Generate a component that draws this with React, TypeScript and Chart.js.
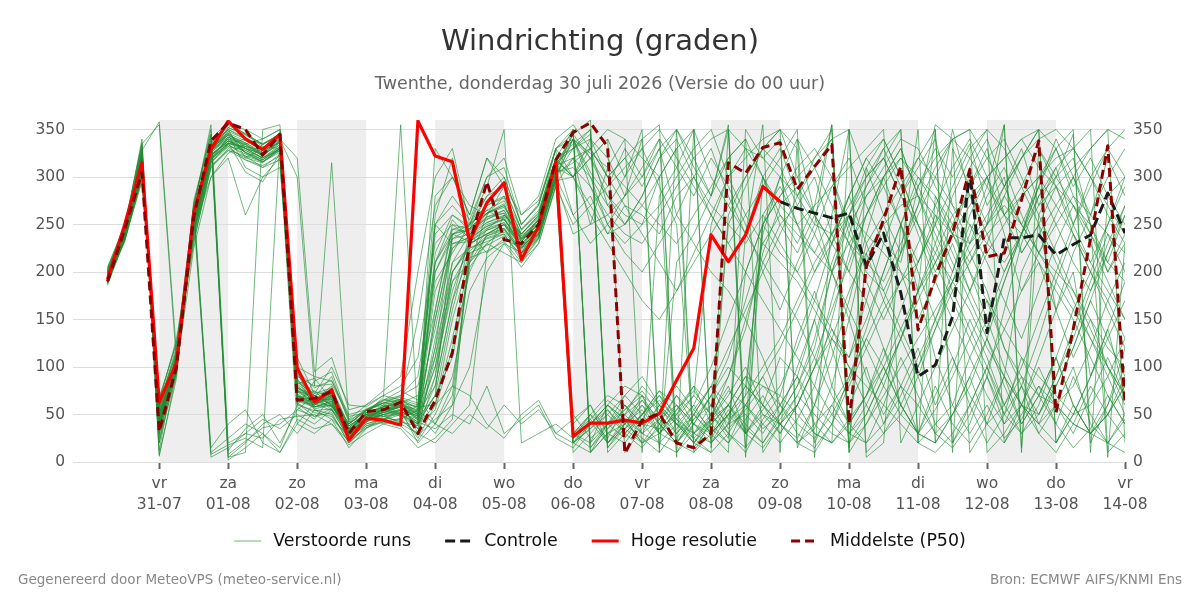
import { useEffect, useRef } from "react";
import { Chart, registerables } from "chart.js";

Chart.register(...registerables);

const FONT = "'DejaVu Sans', sans-serif";

// Time axis: hours relative to vr 31-07 00:00
const axisStartHour = -30;
const axisEndHour = 336;
const stepHours = 6;
const runStartHour = -18;
const controlStartHour = 216;

const tickHours = [0, 24, 48, 72, 96, 120, 144, 168, 192, 216, 240, 264, 288, 312, 336];
const dayNames = ["vr", "za", "zo", "ma", "di", "wo", "do", "vr", "za", "zo", "ma", "di", "wo", "do", "vr"];
const dayDates = ["31-07", "01-08", "02-08", "03-08", "04-08", "05-08", "06-08", "07-08", "08-08", "09-08", "10-08", "11-08", "12-08", "13-08", "14-08"];

// Shaded alternate days [from, to] in hours
const shadedDays = [[0, 24], [48, 72], [96, 120], [144, 168], [192, 216], [240, 264], [288, 312]];

const yTicks = [0, 50, 100, 150, 200, 250, 300, 350];

// High resolution run, every 6 h from 30-07 06:00 until 09-08 00:00
const hres = [
  192, 250, 315, 63, 104, 262, 329, 359, 340, 329,
  345, 99, 63, 76, 23, 46, 44, 39, 359, 322,
  316, 232, 273, 294, 213, 248, 316, 27, 41, 41,
  44, 41, 51, 86, 120, 239, 211, 239, 290, 274,
];

// Control run, every 6 h from 09-08 00:00 until 14-08 00:00
const control = [274, 267, 262, 257, 262, 206, 241, 178, 90, 102, 153, 306, 136, 236, 236, 239, 218, 229, 239, 283, 241];

// Ensemble median (P50), every 6 h from 30-07 06:00
const median = [
  190, 245, 305, 32, 100, 258, 338, 357, 350, 323,
  345, 65, 67, 74, 30, 53, 55, 63, 30, 65,
  115, 230, 295, 234, 230, 250, 318, 347, 357, 332,
  9, 44, 51, 20, 15, 30, 315, 304, 331, 336,
  287, 311, 334, 41, 206, 255, 311, 139, 195, 241,
  308, 216, 220, 276, 338, 52, 140, 235, 333, 62,
];

// Perturbed ensemble members, every 6 h from 30-07 06:00
const member01 = [193, 240, 318, 42, 102, 258, 328, 342, 335, 322, 338, 72, 60, 68, 28, 48, 52, 58, 45, 180, 225, 238, 262, 270, 232, 255, 312, 30, 45, 25, 60, 40, 35, 50, 70, 250, 300, 330, 320, 340, 20, 35, 80, 150, 230, 260, 290, 320, 300, 270, 250, 230, 210, 240, 300, 330, 350, 20, 60, 120];
const member02 = [198, 236, 305, 55, 110, 248, 330, 348, 340, 330, 345, 85, 70, 60, 35, 42, 60, 65, 30, 90, 200, 230, 240, 250, 225, 245, 300, 340, 320, 280, 260, 250, 300, 330, 10, 30, 50, 70, 250, 280, 310, 330, 300, 250, 200, 180, 220, 260, 300, 340, 10, 40, 90, 200, 240, 270, 300, 330, 350, 340];
const member03 = [188, 242, 325, 30, 95, 262, 335, 355, 350, 340, 350, 95, 55, 50, 20, 38, 45, 52, 25, 60, 150, 215, 245, 260, 240, 260, 320, 350, 10, 30, 40, 55, 30, 20, 45, 60, 90, 140, 220, 270, 290, 260, 230, 200, 170, 120, 80, 60, 30, 15, 40, 90, 160, 230, 280, 300, 320, 250, 200, 230];
const member04 = [201, 245, 332, 20, 120, 270, 10, 25, 40, 30, 15, 60, 85, 95, 45, 60, 70, 80, 110, 230, 250, 245, 280, 300, 250, 270, 330, 300, 270, 240, 250, 280, 320, 350, 15, 40, 60, 35, 20, 50, 80, 120, 200, 250, 280, 310, 340, 330, 290, 260, 220, 180, 120, 90, 70, 60, 40, 30, 60, 100];
const member05 = [195, 238, 312, 48, 100, 250, 322, 338, 328, 318, 332, 68, 62, 72, 32, 52, 55, 48, 60, 200, 235, 240, 258, 265, 228, 248, 305, 310, 290, 260, 240, 230, 260, 290, 320, 340, 350, 30, 50, 40, 60, 100, 130, 180, 220, 250, 270, 280, 260, 240, 230, 250, 355, 10, 330, 300, 270, 250, 5, 230];
const member06 = [205, 250, 335, 355, 105, 255, 330, 350, 320, 330, 340, 300, 80, 315, 40, 55, 62, 60, 50, 120, 240, 250, 290, 350, 20, 30, 40, 25, 40, 60, 45, 30, 20, 40, 60, 100, 150, 200, 250, 280, 300, 320, 340, 10, 40, 70, 100, 130, 160, 190, 220, 250, 270, 250, 220, 200, 180, 150, 120, 100];
const member07 = [190, 232, 298, 62, 130, 240, 318, 335, 332, 326, 342, 78, 65, 80, 30, 45, 50, 55, 40, 70, 110, 205, 230, 220, 210, 235, 290, 20, 35, 50, 30, 15, 40, 70, 50, 30, 10, 350, 320, 300, 280, 250, 240, 260, 290, 320, 350, 20, 40, 60, 110, 150, 200, 240, 270, 290, 310, 330, 350, 20];
const member08 = [196, 240, 320, 38, 108, 265, 5, 15, 30, 45, 35, 50, 40, 55, 25, 40, 45, 55, 20, 40, 80, 210, 260, 290, 260, 280, 340, 355, 330, 300, 270, 240, 210, 180, 220, 260, 300, 320, 340, 350, 330, 5, 260, 230, 210, 190, 230, 270, 355, 340, 350, 10, 30, 60, 110, 160, 220, 260, 300, 330];
const member09 = [192, 244, 310, 52, 98, 255, 325, 345, 310, 300, 320, 40, 30, 45, 15, 35, 48, 42, 38, 130, 210, 225, 235, 240, 215, 240, 295, 240, 250, 260, 280, 300, 330, 260, 230, 200, 180, 150, 110, 60, 30, 15, 40, 80, 120, 160, 190, 210, 250, 290, 330, 350, 20, 50, 80, 60, 40, 30, 20, 10];
const member10 = [199, 247, 328, 358, 115, 245, 300, 320, 260, 300, 310, 100, 90, 85, 50, 55, 65, 75, 65, 250, 280, 255, 300, 320, 260, 275, 330, 345, 360, 15, 35, 60, 40, 20, 40, 70, 110, 170, 230, 260, 240, 220, 200, 230, 260, 290, 320, 300, 280, 250, 200, 150, 100, 60, 40, 60, 80, 120, 170, 210];
const member11 = [194, 239, 316, 45, 104, 260, 340, 358, 345, 335, 345, 88, 58, 62, 22, 42, 58, 62, 50, 30, 60, 100, 200, 230, 220, 250, 315, 50, 25, 40, 55, 70, 40, 20, 10, 45, 60, 90, 80, 70, 50, 30, 20, 40, 70, 100, 140, 180, 220, 260, 280, 300, 320, 340, 310, 290, 270, 240, 210, 190];
const member12 = [186, 234, 302, 68, 125, 235, 310, 330, 320, 315, 330, 110, 72, 100, 60, 58, 70, 65, 150, 270, 300, 260, 320, 290, 245, 265, 320, 330, 340, 300, 320, 340, 355, 10, 30, 20, 40, 70, 100, 130, 170, 210, 240, 270, 300, 330, 350, 20, 280, 240, 200, 170, 140, 110, 90, 70, 50, 60, 90, 130];
const member13 = [202, 241, 322, 25, 92, 268, 15, 40, 55, 20, 10, 45, 35, 40, 18, 30, 40, 35, 15, 25, 45, 230, 240, 250, 230, 245, 300, 320, 330, 350, 340, 320, 300, 330, 350, 20, 40, 50, 30, 60, 90, 150, 210, 260, 300, 320, 280, 250, 220, 190, 160, 120, 90, 60, 50, 80, 120, 170, 220, 270];
const member14 = [197, 243, 314, 40, 112, 252, 332, 346, 338, 328, 336, 65, 75, 58, 38, 50, 40, 45, 55, 260, 320, 240, 220, 235, 225, 240, 310, 20, 40, 60, 80, 70, 55, 40, 25, 10, 350, 330, 300, 270, 250, 270, 290, 310, 330, 350, 20, 60, 100, 140, 180, 220, 250, 280, 300, 320, 330, 300, 260, 230];
const member15 = [189, 237, 308, 56, 101, 246, 320, 336, 305, 295, 325, 58, 45, 70, 30, 55, 62, 70, 90, 210, 255, 235, 248, 255, 235, 255, 320, 30, 15, 35, 50, 80, 60, 40, 30, 45, 90, 150, 210, 250, 270, 240, 200, 160, 120, 80, 50, 30, 20, 50, 80, 130, 190, 240, 280, 310, 330, 350, 10, 30];
const member16 = [200, 246, 340, 8, 88, 275, 345, 5, 20, 40, 50, 30, 55, 45, 28, 45, 50, 40, 30, 20, 40, 60, 220, 260, 240, 260, 330, 340, 300, 250, 230, 250, 270, 300, 330, 350, 300, 260, 230, 210, 190, 160, 130, 100, 80, 60, 40, 20, 10, 30, 60, 100, 140, 180, 220, 250, 280, 260, 240, 220];
const member17 = [193, 235, 295, 70, 98, 225, 300, 325, 335, 340, 350, 78, 68, 90, 42, 48, 56, 50, 35, 110, 190, 210, 230, 245, 220, 238, 298, 28, 42, 20, 35, 50, 75, 60, 40, 30, 50, 80, 60, 40, 20, 10, 40, 90, 140, 200, 250, 290, 320, 340, 320, 290, 260, 240, 210, 180, 150, 110, 70, 40];
const member18 = [195, 241, 330, 35, 107, 258, 8, 18, 25, 15, 340, 320, 95, 110, 55, 60, 75, 90, 200, 300, 330, 250, 300, 310, 250, 270, 330, 10, 30, 50, 70, 90, 60, 30, 50, 80, 120, 160, 200, 240, 280, 310, 340, 350, 10, 30, 60, 100, 140, 180, 210, 240, 260, 280, 300, 270, 240, 210, 180, 150];
const member19 = [191, 233, 300, 60, 118, 230, 315, 332, 328, 320, 328, 62, 52, 48, 25, 38, 42, 38, 22, 50, 90, 180, 215, 230, 205, 230, 290, 250, 270, 290, 310, 330, 350, 320, 290, 260, 230, 200, 170, 140, 110, 80, 50, 30, 20, 40, 70, 110, 150, 190, 230, 260, 290, 320, 340, 350, 330, 300, 270, 240];
const member20 = [203, 249, 326, 50, 103, 262, 326, 352, 345, 332, 330, 82, 88, 66, 33, 52, 65, 70, 80, 160, 245, 250, 270, 280, 240, 258, 315, 330, 350, 10, 30, 50, 70, 40, 20, 10, 30, 60, 90, 120, 160, 200, 230, 260, 240, 220, 200, 180, 210, 240, 270, 300, 320, 340, 350, 20, 50, 90, 140, 190];
const member21 = [196, 239, 319, 44, 96, 250, 335, 5, 10, 350, 355, 70, 60, 75, 35, 46, 54, 62, 70, 40, 70, 220, 228, 238, 218, 235, 300, 340, 325, 310, 290, 270, 250, 230, 260, 290, 320, 340, 10, 40, 70, 50, 30, 20, 50, 90, 130, 170, 210, 250, 290, 320, 340, 300, 260, 220, 180, 140, 100, 70];
const member22 = [187, 236, 304, 58, 122, 238, 312, 328, 322, 310, 318, 90, 80, 82, 48, 52, 68, 355, 40, 330, 300, 270, 260, 280, 245, 262, 318, 30, 50, 70, 60, 40, 20, 10, 40, 70, 100, 80, 60, 40, 20, 40, 60, 90, 130, 170, 220, 270, 310, 340, 350, 320, 290, 250, 220, 190, 160, 130, 100, 70];
const member23 = [199, 244, 323, 28, 115, 270, 350, 12, 35, 50, 20, 55, 70, 55, 40, 55, 60, 50, 40, 80, 170, 240, 255, 265, 235, 250, 310, 300, 260, 230, 200, 170, 150, 180, 210, 240, 270, 300, 330, 350, 15, 60, 130, 110, 170, 230, 210, 290, 330, 300, 335, 270, 300, 220, 250, 160, 200, 90, 140, 70];
const member24 = [194, 240, 311, 46, 100, 252, 328, 340, 330, 324, 334, 70, 58, 64, 26, 44, 50, 56, 48, 150, 230, 236, 252, 258, 226, 244, 302, 330, 345, 20, 45, 20, 35, 60, 30, 50, 250, 290, 330, 310, 270, 300, 240, 200, 260, 300, 330, 280, 240, 200, 260, 300, 240, 180, 210, 160, 110, 150, 100, 60];
const member25 = [192, 238, 306, 50, 106, 248, 322, 338, 330, 320, 330, 65, 60, 70, 30, 48, 58, 60, 55, 240, 260, 245, 265, 275, 238, 252, 312, 320, 300, 270, 300, 330, 290, 250, 20, 50, 80, 30, 60, 110, 90, 40, 20, 350, 300, 320, 280, 320, 350, 20, 60, 20, 50, 110, 70, 40, 90, 50, 20, 45];
const member26 = [197, 242, 318, 40, 108, 256, 330, 344, 336, 326, 340, 80, 66, 58, 36, 50, 48, 52, 45, 100, 180, 232, 246, 252, 230, 248, 308, 345, 20, 40, 25, 50, 65, 45, 30, 60, 40, 200, 250, 300, 340, 260, 300, 240, 210, 250, 200, 150, 190, 230, 180, 230, 280, 250, 290, 340, 300, 260, 320, 280];
const member27 = [190, 236, 320, 36, 100, 262, 320, 335, 340, 335, 344, 75, 63, 72, 28, 42, 53, 60, 35, 55, 120, 200, 240, 250, 228, 240, 305, 40, 60, 20, 40, 70, 30, 50, 80, 60, 30, 10, 45, 70, 130, 180, 120, 60, 100, 40, 80, 30, 70, 110, 60, 100, 50, 80, 30, 60, 100, 40, 20, 50];
const member28 = [200, 246, 322, 54, 104, 258, 327, 348, 325, 316, 326, 92, 70, 60, 42, 56, 62, 66, 52, 190, 220, 250, 265, 255, 232, 256, 318, 300, 340, 320, 280, 340, 10, 350, 320, 280, 355, 15, 260, 230, 200, 240, 290, 320, 270, 230, 280, 310, 340, 270, 230, 280, 310, 260, 220, 260, 300, 250, 210, 260];
const member29 = [193, 237, 309, 42, 97, 244, 318, 342, 332, 328, 336, 60, 54, 56, 24, 40, 46, 44, 30, 120, 200, 225, 232, 240, 212, 236, 296, 20, 10, 40, 60, 30, 45, 70, 40, 20, 50, 30, 300, 250, 220, 260, 200, 150, 90, 50, 80, 120, 60, 100, 150, 110, 60, 90, 40, 80, 120, 170, 130, 90];
const member30 = [198, 243, 328, 12, 112, 268, 355, 20, 30, 25, 45, 48, 50, 40, 22, 36, 44, 50, 40, 210, 245, 242, 258, 262, 234, 250, 312, 345, 320, 290, 330, 300, 340, 310, 280, 320, 290, 250, 200, 160, 210, 250, 355, 15, 220, 170, 130, 180, 350, 10, 310, 340, 290, 330, 270, 310, 250, 290, 330, 350];
const member31 = [195, 240, 315, 48, 103, 254, 326, 340, 334, 322, 338, 68, 66, 66, 30, 46, 52, 54, 42, 35, 50, 40, 80, 30, 45, 60, 25, 15, 40, 55, 35, 20, 45, 60, 40, 25, 55, 30, 15, 40, 60, 30, 20, 45, 70, 120, 60, 30, 80, 40, 20, 50, 90, 40, 70, 110, 60, 30, 50, 80];
const member32 = [191, 239, 313, 58, 99, 246, 324, 336, 330, 320, 332, 76, 62, 54, 34, 50, 58, 64, 58, 250, 230, 232, 244, 250, 220, 242, 300, 260, 280, 240, 270, 260, 240, 280, 300, 270, 250, 230, 260, 290, 250, 220, 260, 350, 5, 20, 250, 210, 250, 350, 280, 240, 200, 240, 290, 250, 210, 180, 220, 260];
const member33 = [196, 241, 317, 40, 109, 260, 332, 350, 342, 330, 343, 84, 72, 78, 38, 50, 60, 58, 46, 70, 160, 230, 240, 246, 224, 240, 306, 25, 50, 35, 55, 75, 50, 30, 55, 80, 45, 60, 40, 20, 45, 80, 150, 220, 280, 300, 250, 180, 110, 60, 30, 60, 25, 45, 80, 40, 15, 35, 70, 40];
const member34 = [189, 235, 303, 64, 114, 242, 316, 334, 322, 316, 328, 62, 48, 52, 20, 36, 42, 46, 28, 45, 60, 215, 222, 232, 210, 230, 292, 320, 250, 310, 340, 10, 280, 310, 350, 15, 260, 300, 330, 350, 300, 260, 230, 280, 320, 340, 300, 250, 200, 240, 290, 330, 260, 220, 250, 290, 240, 200, 250, 300];
const member35 = [202, 247, 334, 20, 96, 272, 345, 2, 15, 30, 10, 40, 62, 70, 36, 52, 58, 66, 60, 280, 300, 260, 320, 300, 250, 272, 330, 350, 15, 40, 70, 50, 30, 55, 80, 40, 20, 60, 90, 50, 100, 150, 80, 40, 20, 60, 110, 70, 30, 50, 90, 130, 80, 40, 70, 110, 60, 30, 50, 90];
const member36 = [194, 239, 310, 52, 101, 250, 320, 332, 318, 312, 322, 70, 56, 60, 32, 44, 48, 50, 38, 160, 250, 236, 248, 256, 228, 246, 304, 30, 20, 60, 40, 25, 10, 35, 60, 30, 50, 80, 240, 300, 250, 200, 240, 280, 230, 180, 140, 100, 150, 200, 250, 210, 170, 130, 180, 230, 270, 230, 190, 150];
const member37 = [197, 243, 321, 38, 104, 256, 329, 345, 330, 325, 338, 74, 70, 64, 26, 46, 56, 60, 52, 200, 240, 246, 262, 268, 238, 254, 318, 300, 330, 270, 250, 280, 320, 340, 300, 260, 230, 260, 290, 320, 350, 20, 60, 30, 50, 90, 130, 90, 40, 20, 50, 90, 40, 60, 100, 60, 30, 70, 110, 70];
const member38 = [192, 237, 314, 46, 102, 249, 322, 340, 326, 318, 330, 66, 60, 70, 34, 50, 52, 58, 44, 90, 190, 222, 238, 244, 222, 240, 300, 350, 10, 30, 20, 45, 70, 50, 25, 45, 70, 100, 60, 30, 60, 100, 170, 240, 290, 330, 290, 240, 190, 150, 110, 70, 40, 80, 130, 190, 240, 200, 160, 120];
const member39 = [199, 245, 326, 32, 96, 264, 338, 352, 344, 334, 344, 80, 64, 58, 40, 54, 64, 68, 62, 140, 225, 244, 256, 262, 236, 250, 310, 340, 290, 250, 220, 200, 230, 260, 300, 330, 280, 240, 210, 180, 150, 110, 70, 40, 70, 110, 160, 210, 260, 220, 180, 140, 190, 240, 290, 330, 280, 240, 200, 240];
const member40 = [190, 234, 300, 66, 126, 232, 310, 328, 318, 310, 324, 96, 78, 86, 44, 54, 66, 62, 58, 60, 80, 70, 40, 25, 50, 65, 30, 45, 60, 30, 50, 65, 40, 20, 45, 70, 35, 55, 80, 60, 40, 25, 50, 85, 130, 100, 60, 30, 55, 90, 130, 170, 120, 80, 50, 90, 130, 180, 230, 270];
const member41 = [196, 241, 316, 44, 106, 254, 330, 344, 336, 324, 340, 74, 62, 66, 30, 48, 54, 58, 48, 210, 240, 244, 262, 272, 234, 252, 314, 335, 350, 15, 40, 60, 30, 45, 70, 50, 25, 240, 300, 330, 280, 320, 350, 30, 60, 100, 60, 30, 20, 50, 90, 40, 20, 60, 30, 10, 40, 80, 50, 25];
const member42 = [193, 238, 312, 50, 104, 250, 324, 338, 330, 320, 334, 70, 64, 70, 30, 46, 56, 58, 50, 100, 200, 228, 244, 252, 226, 244, 304, 315, 330, 300, 320, 290, 330, 350, 310, 280, 320, 340, 300, 260, 230, 270, 355, 10, 310, 260, 220, 350, 20, 330, 290, 250, 280, 320, 350, 330, 290, 320, 280, 250];
const member43 = [200, 244, 326, 36, 98, 262, 334, 350, 340, 330, 342, 82, 68, 62, 34, 52, 58, 62, 54, 40, 30, 50, 35, 60, 40, 55, 30, 20, 45, 65, 50, 30, 60, 80, 55, 35, 20, 45, 70, 40, 25, 60, 110, 170, 240, 300, 330, 280, 230, 180, 140, 100, 60, 30, 50, 90, 140, 190, 240, 200];
const member44 = [191, 236, 304, 58, 116, 240, 316, 334, 324, 316, 330, 64, 58, 60, 28, 44, 50, 52, 40, 60, 130, 210, 238, 246, 220, 238, 296, 300, 320, 340, 10, 35, 60, 40, 20, 45, 75, 60, 35, 50, 80, 130, 200, 260, 310, 340, 300, 250, 210, 170, 130, 90, 50, 30, 60, 110, 160, 200, 170, 130];
const member45 = [197, 242, 320, 46, 100, 258, 330, 346, 332, 322, 336, 76, 66, 72, 32, 50, 54, 60, 50, 220, 260, 248, 270, 278, 240, 258, 320, 260, 230, 250, 280, 310, 340, 20, 50, 30, 60, 90, 50, 30, 60, 100, 140, 100, 60, 30, 50, 90, 140, 190, 240, 290, 355, 15, 260, 300, 345, 10, 280, 300];
const member46 = [189, 235, 306, 62, 110, 244, 318, 336, 326, 318, 330, 78, 70, 76, 38, 50, 58, 62, 52, 80, 170, 218, 236, 242, 220, 236, 298, 25, 40, 60, 45, 20, 30, 55, 75, 50, 30, 15, 40, 60, 90, 60, 40, 20, 40, 80, 130, 180, 230, 280, 320, 350, 330, 290, 250, 210, 170, 130, 90, 50];
const member47 = [204, 248, 336, 6, 94, 270, 342, 8, 22, 36, 40, 55, 48, 56, 30, 44, 52, 58, 48, 150, 235, 246, 262, 270, 236, 256, 316, 340, 305, 280, 250, 270, 300, 5, 350, 300, 270, 240, 355, 10, 340, 310, 270, 230, 190, 150, 190, 230, 270, 310, 340, 300, 260, 290, 330, 290, 250, 210, 250, 290];
const member48 = [192, 237, 308, 52, 104, 248, 322, 338, 326, 316, 328, 66, 58, 64, 26, 42, 50, 54, 42, 70, 240, 232, 250, 256, 226, 244, 302, 30, 50, 20, 40, 65, 45, 25, 50, 80, 60, 40, 20, 45, 70, 110, 160, 210, 260, 300, 320, 290, 250, 210, 170, 130, 90, 60, 40, 20, 50, 90, 130, 170];
const member49 = [195, 240, 314, 44, 102, 254, 328, 342, 334, 324, 338, 70, 62, 68, 30, 48, 54, 58, 46, 250, 270, 250, 280, 290, 244, 262, 320, 300, 320, 340, 300, 350, 15, 210, 240, 280, 350, 5, 250, 220, 200, 170, 140, 110, 150, 200, 250, 300, 270, 240, 210, 250, 290, 320, 350, 20, 60, 30, 50, 80];
const member50 = [199, 245, 324, 34, 112, 264, 336, 354, 346, 334, 346, 86, 74, 70, 40, 54, 62, 66, 56, 110, 210, 240, 252, 260, 232, 250, 310, 20, 35, 55, 30, 50, 75, 45, 20, 40, 60, 30, 55, 80, 120, 170, 230, 280, 320, 290, 250, 200, 150, 110, 70, 40, 60, 100, 150, 200, 250, 300, 330, 300];

const members = [
  member01, member02, member03, member04, member05, member06, member07, member08, member09, member10,
  member11, member12, member13, member14, member15, member16, member17, member18, member19, member20,
  member21, member22, member23, member24, member25, member26, member27, member28, member29, member30,
  member31, member32, member33, member34, member35, member36, member37, member38, member39, member40,
  member41, member42, member43, member44, member45, member46, member47, member48, member49, member50,
];

const MEMBER_COLOR = "rgba(30, 140, 50, 0.62)";
const CONTROL_COLOR = "#1a1a1a";
const HRES_COLOR = "#ff0000";
const MEDIAN_COLOR = "#8b0000";

const legendLabels = ["Verstoorde runs", "Controle", "Hoge resolutie", "Middelste (P50)"];
const legendColors = ["rgba(30, 140, 50, 0.55)", CONTROL_COLOR, HRES_COLOR, MEDIAN_COLOR];
const legendWidths = [1.2, 3, 3, 3];
const legendDashes = [[], [10, 5], [], [9, 5]];

const toPoints = (values: number[], startHour: number) =>
  values.map((v, i) => ({ x: startHour + i * stepHours, y: v }));

const shadingPlugin = {
  id: "dayShading",
  beforeDraw(chart: any) {
    const { ctx, chartArea, scales } = chart;
    const xs = scales.x;
    ctx.save();
    ctx.fillStyle = "#eeeeee";
    for (const [a, b] of shadedDays) {
      const x1 = xs.getPixelForValue(a);
      const x2 = xs.getPixelForValue(b);
      ctx.fillRect(x1, chartArea.top, x2 - x1, chartArea.bottom - chartArea.top);
    }
    ctx.restore();
  },
};

// Legend row and footer texts below the x axis
const bottomTextPlugin = {
  id: "bottomTexts",
  afterDraw(chart: any) {
    const { ctx, width } = chart;
    ctx.save();

    const sample = 27;
    const gap = 12;
    const spacing = 34;
    const legendY = 541;
    ctx.font = `17.4px ${FONT}`;
    const textWidths = legendLabels.map((t) => ctx.measureText(t).width);
    const total =
      textWidths.reduce((a, b) => a + b, 0) + legendLabels.length * (sample + gap) + (legendLabels.length - 1) * spacing;
    let x = width / 2 - total / 2;
    ctx.textBaseline = "middle";
    ctx.textAlign = "left";
    legendLabels.forEach((label, i) => {
      ctx.beginPath();
      ctx.strokeStyle = legendColors[i];
      ctx.lineWidth = legendWidths[i];
      ctx.setLineDash(legendDashes[i]);
      ctx.moveTo(x, legendY);
      ctx.lineTo(x + sample, legendY);
      ctx.stroke();
      ctx.setLineDash([]);
      ctx.fillStyle = "#111111";
      ctx.fillText(label, x + sample + gap, legendY);
      x += sample + gap + textWidths[i] + spacing;
    });

    ctx.font = `13.5px ${FONT}`;
    ctx.fillStyle = "#888888";
    ctx.textAlign = "left";
    ctx.fillText("Gegenereerd door MeteoVPS (meteo-service.nl)", 18, 580);
    ctx.textAlign = "right";
    ctx.fillText("Bron: ECMWF AIFS/KNMI Ens", width - 18, 580);
    ctx.restore();
  },
};

export default function App() {
  const canvasRef = useRef<HTMLCanvasElement>(null);

  useEffect(() => {
    if (!canvasRef.current) return;

    const memberSets = members.map((m, k) => ({
      label: `Verstoorde run ${k + 1}`,
      data: toPoints(m, runStartHour),
      borderColor: MEMBER_COLOR,
      borderWidth: 1,
      order: 3,
    }));

    const yTickOpts = {
      color: "#555555",
      font: { family: FONT, size: 15.5 },
      padding: 8,
    };

    const chart = new Chart(canvasRef.current, {
      type: "line",
      data: {
        datasets: [
          {
            label: "Middelste (P50)",
            data: toPoints(median, runStartHour),
            borderColor: MEDIAN_COLOR,
            borderWidth: 3,
            borderDash: [9, 5],
            order: 0,
          },
          {
            label: "Hoge resolutie",
            data: toPoints(hres, runStartHour),
            borderColor: HRES_COLOR,
            borderWidth: 3.2,
            order: 1,
          },
          {
            label: "Controle",
            data: toPoints(control, controlStartHour),
            borderColor: CONTROL_COLOR,
            borderWidth: 3,
            borderDash: [10, 5],
            order: 2,
          },
          ...memberSets,
        ] as any,
      },
      options: {
        animation: false,
        responsive: false,
        devicePixelRatio: 1,
        events: [],
        elements: {
          point: { radius: 0 },
          line: { tension: 0, fill: false, borderJoinStyle: "round" },
        },
        layout: { padding: { left: 0, right: 0, top: 0, bottom: 86 } },
        scales: {
          x: {
            type: "linear",
            position: "bottom",
            min: axisStartHour,
            max: axisEndHour,
            afterBuildTicks: (s: any) => {
              s.ticks = tickHours.map((v) => ({ value: v }));
            },
            afterFit: (s: any) => {
              s.height = 52;
            },
            ticks: {
              autoSkip: false,
              maxRotation: 0,
              color: "#555555",
              font: { family: FONT, size: 15.5, lineHeight: 1.33 },
              padding: 5,
              callback: (value: any) => {
                const i = tickHours.indexOf(Number(value));
                return [dayNames[i], dayDates[i]];
              },
            },
            grid: {
              drawOnChartArea: false,
              drawTicks: true,
              tickLength: 7,
              tickColor: "#666666",
              tickWidth: 2,
            },
            border: { display: false },
          },
          y: {
            position: "left",
            min: 0,
            max: 360,
            afterBuildTicks: (s: any) => {
              s.ticks = yTicks.map((v) => ({ value: v }));
            },
            afterFit: (s: any) => {
              s.width = 73;
            },
            ticks: yTickOpts,
            grid: { color: "#dddddd", lineWidth: 1, drawTicks: false },
            border: { display: false },
          },
          y2: {
            position: "right",
            min: 0,
            max: 360,
            afterBuildTicks: (s: any) => {
              s.ticks = yTicks.map((v) => ({ value: v }));
            },
            afterFit: (s: any) => {
              s.width = 75;
            },
            ticks: yTickOpts,
            grid: { display: false, drawTicks: false },
            border: { display: false },
          },
        },
        plugins: {
          title: {
            display: true,
            text: "Windrichting (graden)",
            color: "#333333",
            font: { family: FONT, size: 29, weight: "normal", lineHeight: 1.2 },
            padding: { top: 25, bottom: 13.7 },
          },
          subtitle: {
            display: true,
            text: "Twenthe, donderdag 30 juli 2026 (Versie do 00 uur)",
            color: "#666666",
            font: { family: FONT, size: 17.5, weight: "normal", lineHeight: 1.2 },
            padding: { top: 0, bottom: 25.5 },
          },
          legend: { display: false },
          tooltip: { enabled: false },
        },
      } as any,
      plugins: [shadingPlugin, bottomTextPlugin],
    });

    return () => chart.destroy();
  }, []);

  return (
    <div style={{ position: "absolute", left: 0, top: 0, width: 1200, height: 600, background: "#ffffff" }}>
      <canvas ref={canvasRef} width={1200} height={600} />
    </div>
  );
}
